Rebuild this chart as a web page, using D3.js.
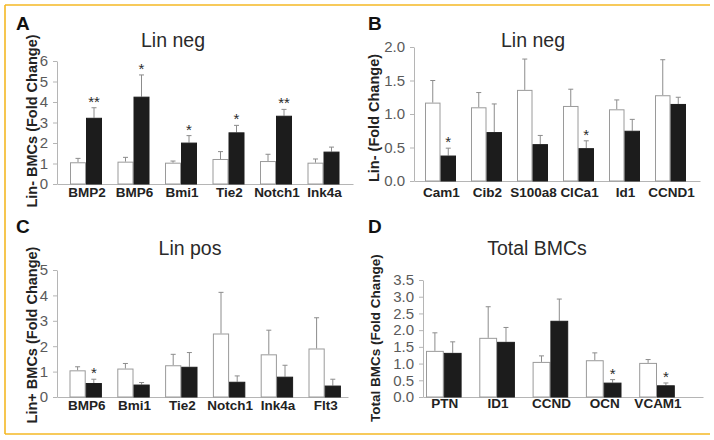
<!DOCTYPE html>
<html>
<head>
<meta charset="utf-8">
<script src="https://cdn.jsdelivr.net/npm/d3@7/dist/d3.min.js"></script>
<style>
  html, body { margin: 0; padding: 0; background: #fff; }
  svg { display: block; font-family: "Liberation Sans", Arial, sans-serif; }
</style>
</head>
<body>
<svg id="chart" width="714" height="440"></svg>
<script>
// ---------------- DATA ----------------
// Panel A: Lin neg
const catsA   = ["BMP2", "BMP6", "Bmi1", "Tie2", "Notch1", "Ink4a"];
const ctrlA   = [1.06, 1.09, 1.04, 1.22, 1.12, 1.04];
const ctrlErrA= [0.19, 0.21, 0.08, 0.36, 0.33, 0.18];
const trtA    = [3.23, 4.26, 2.02, 2.52, 3.33, 1.58];
const trtErrA = [0.49, 1.06, 0.34, 0.34, 0.31, 0.22];
const sigA    = ["**", "*", "*", "*", "**", ""];
const ticksA  = [0, 1, 2, 3, 4, 5, 6];

// Panel B: Lin neg
const catsB   = ["Cam1", "Cib2", "S100a8", "ClCa1", "Id1", "CCND1"];
const ctrlB   = [1.17, 1.10, 1.36, 1.12, 1.07, 1.28];
const ctrlErrB= [0.33, 0.22, 0.46, 0.25, 0.14, 0.53];
const trtB    = [0.38, 0.73, 0.55, 0.49, 0.75, 1.15];
const trtErrB = [0.11, 0.42, 0.13, 0.11, 0.17, 0.10];
const sigB    = ["*", "", "", "*", "", ""];
const ticksB  = [0, 0.5, 1.0, 1.5, 2.0];

// Panel C: Lin pos
const catsC   = ["BMP6", "Bmi1", "Tie2", "Notch1", "Ink4a", "Flt3"];
const ctrlC   = [1.05, 1.12, 1.25, 2.50, 1.68, 1.91];
const ctrlErrC= [0.14, 0.20, 0.43, 1.62, 0.95, 1.21];
const trtC    = [0.55, 0.49, 1.19, 0.60, 0.80, 0.45];
const trtErrC = [0.15, 0.08, 0.56, 0.23, 0.45, 0.25];
const sigC    = ["*", "", "", "", "", ""];
const ticksC  = [0, 1, 2, 3, 4, 5];

// Panel D: Total BMCs
const catsD   = ["PTN", "ID1", "CCND", "OCN", "VCAM1"];
const ctrlD   = [1.38, 1.77, 1.05, 1.10, 1.02];
const ctrlErrD= [0.54, 0.93, 0.18, 0.22, 0.10];
const trtD    = [1.32, 1.65, 2.28, 0.43, 0.35];
const trtErrD = [0.33, 0.43, 0.65, 0.09, 0.07];
const sigD    = ["", "", "", "*", "*"];
const ticksD  = [0, 0.5, 1.0, 1.5, 2.0, 2.5, 3.0, 3.5];

// ---------------- LAYOUT ----------------
const svg = d3.select("#chart");
const GOLD = "#f4b824";

// frame lines (top, left, bottom)
svg.append("line").attr("x1", 5).attr("x2", 710).attr("y1", 5).attr("y2", 5)
  .attr("stroke", GOLD).attr("stroke-width", 1.6);
svg.append("line").attr("x1", 5).attr("x2", 5).attr("y1", 5).attr("y2", 434)
  .attr("stroke", GOLD).attr("stroke-width", 1.6);
svg.append("line").attr("x1", 5).attr("x2", 710).attr("y1", 434).attr("y2", 434)
  .attr("stroke", GOLD).attr("stroke-width", 1.6);

const panels = [
  { letter: "A", title: "Lin neg", ytitle: "Lin- BMCs (Fold Change)",
    cats: catsA, ctrl: ctrlA, ctrlErr: ctrlErrA, trt: trtA, trtErr: trtErrA, sig: sigA,
    ticks: ticksA, fmt: d3.format("d"), ymax: 6,
    axisX: 57, axisEnd: 353, yZero: 184, yTop: 61,
    firstStart: 70, step: 47.5, barW: 16,
    letterX: 16, letterY: 30, titleX: 173, titleY: 47,
    ytX: 37, ytY: 121, ytSize: 14.5, labelY: 197 },
  { letter: "B", title: "Lin neg", ytitle: "Lin- (Fold Change)",
    cats: catsB, ctrl: ctrlB, ctrlErr: ctrlErrB, trt: trtB, trtErr: trtErrB, sig: sigB,
    ticks: ticksB, fmt: d3.format(".1f"), ymax: 2,
    axisX: 414, axisEnd: 700, yZero: 181, yTop: 47,
    firstStart: 425, step: 46, barW: 15.5,
    letterX: 368, letterY: 30, titleX: 533, titleY: 47,
    ytX: 379, ytY: 118, ytSize: 14.5, labelY: 197 },
  { letter: "C", title: "Lin pos", ytitle: "Lin+ BMCs (Fold Change)",
    cats: catsC, ctrl: ctrlC, ctrlErr: ctrlErrC, trt: trtC, trtErr: trtErrC, sig: sigC,
    ticks: ticksC, fmt: d3.format("d"), ymax: 5,
    axisX: 57, axisEnd: 348, yZero: 397, yTop: 270,
    firstStart: 69.5, step: 47.8, barW: 16.2,
    letterX: 16, letterY: 233, titleX: 190, titleY: 255,
    ytX: 37, ytY: 335, ytSize: 14.5, labelY: 410 },
  { letter: "D", title: "Total BMCs", ytitle: "Total BMCs (Fold Change)",
    cats: catsD, ctrl: ctrlD, ctrlErr: ctrlErrD, trt: trtD, trtErr: trtErrD, sig: sigD,
    ticks: ticksD, fmt: d3.format(".1f"), ymax: 3.5,
    axisX: 423, axisEnd: 703, yZero: 397, yTop: 280,
    firstStart: 426, step: 53.3, barW: 17.8,
    letterX: 368, letterY: 233, titleX: 537, titleY: 255,
    ytX: 380, ytY: 338, ytSize: 13.5, labelY: 408 }
];

panels.forEach(p => {
  const g = svg.append("g");
  const n = p.cats.length;
  const gap = p.step - 2 * p.barW;
  const pi = gap / p.step;
  const r0 = p.firstStart - gap / 2;
  const x = d3.scaleBand().domain(p.cats).range([r0, r0 + n * p.step])
    .paddingInner(pi).paddingOuter(pi / 2).align(0.5);
  const xi = d3.scaleBand().domain(["ctrl", "trt"]).range([0, x.bandwidth()]);
  const y = d3.scaleLinear().domain([0, p.ymax]).range([p.yZero, p.yTop]);

  // y axis
  const ya = g.append("g").attr("transform", `translate(${p.axisX},0)`)
    .call(d3.axisLeft(y).tickValues(p.ticks).tickFormat(p.fmt).tickSize(4).tickSizeOuter(0).tickPadding(5));
  ya.select(".domain").attr("stroke", "#b5b5b5");
  ya.selectAll(".tick line").attr("stroke", "#b5b5b5");
  ya.selectAll(".tick text").attr("fill", "#5a5a5a").attr("font-size", 15)
    .attr("font-family", "Liberation Sans, Arial, sans-serif");

  // x axis line
  const xa = g.append("g").attr("transform", `translate(0,${p.yZero})`)
    .call(d3.axisBottom(d3.scaleLinear().domain([0, 1]).range([p.axisX, p.axisEnd])).ticks(0).tickSizeOuter(0));
  xa.select(".domain").attr("stroke", "#b5b5b5");

  // bars
  const rows = p.cats.map((c, i) => ({ cat: c, i }));
  const grp = g.selectAll(".grp").data(rows).join("g")
    .attr("transform", d => `translate(${x(d.cat)},0)`);

  const series = [
    { key: "ctrl", vals: p.ctrl, errs: p.ctrlErr, fill: "#ffffff", stroke: "#9a9a9a" },
    { key: "trt", vals: p.trt, errs: p.trtErr, fill: "#1c1c1c", stroke: "#1c1c1c" }
  ];
  series.forEach(s => {
    grp.append("line")
      .attr("x1", xi(s.key) + xi.bandwidth() / 2).attr("x2", xi(s.key) + xi.bandwidth() / 2)
      .attr("y1", d => y(s.vals[d.i])).attr("y2", d => y(s.vals[d.i] + s.errs[d.i]))
      .attr("stroke", "#8c8c8c").attr("stroke-width", 1);
    grp.append("line")
      .attr("x1", xi(s.key) + xi.bandwidth() / 2 - 2.5).attr("x2", xi(s.key) + xi.bandwidth() / 2 + 2.5)
      .attr("y1", d => y(s.vals[d.i] + s.errs[d.i])).attr("y2", d => y(s.vals[d.i] + s.errs[d.i]))
      .attr("stroke", "#8c8c8c").attr("stroke-width", 1);
  });
  series.forEach(s => {
    grp.append("rect")
      .attr("x", xi(s.key) + 0.5).attr("width", xi.bandwidth() - 1)
      .attr("y", d => y(s.vals[d.i]) + 0.5)
      .attr("height", d => Math.max(0, y(0) - y(s.vals[d.i]) - 0.5))
      .attr("fill", s.fill).attr("stroke", s.stroke).attr("stroke-width", 1);
  });

  // significance stars
  grp.append("text")
    .attr("x", xi("trt") + xi.bandwidth() / 2)
    .attr("y", d => y(p.trt[d.i] + p.trtErr[d.i]) - 1)
    .attr("text-anchor", "middle").attr("font-size", 15).attr("fill", "#2a2a2a")
    .text(d => p.sig[d.i]);

  // category labels
  grp.append("text")
    .attr("x", x.bandwidth() / 2 + 1).attr("y", p.labelY)
    .attr("text-anchor", "middle").attr("font-size", 13.5).attr("font-weight", "bold").attr("fill", "#222")
    .text(d => d.cat);

  // title
  g.append("text").attr("x", p.titleX).attr("y", p.titleY).attr("text-anchor", "middle")
    .attr("font-size", 19.5).attr("fill", "#2a2a2a").text(p.title);
  // panel letter
  g.append("text").attr("x", p.letterX).attr("y", p.letterY)
    .attr("font-size", 19).attr("font-weight", "bold").attr("fill", "#111").text(p.letter);
  // y title
  g.append("text").attr("transform", `translate(${p.ytX},${p.ytY}) rotate(-90)`)
    .attr("text-anchor", "middle").attr("font-size", p.ytSize).attr("font-weight", "bold").attr("fill", "#222")
    .text(p.ytitle);
});
</script>
</body>
</html>
